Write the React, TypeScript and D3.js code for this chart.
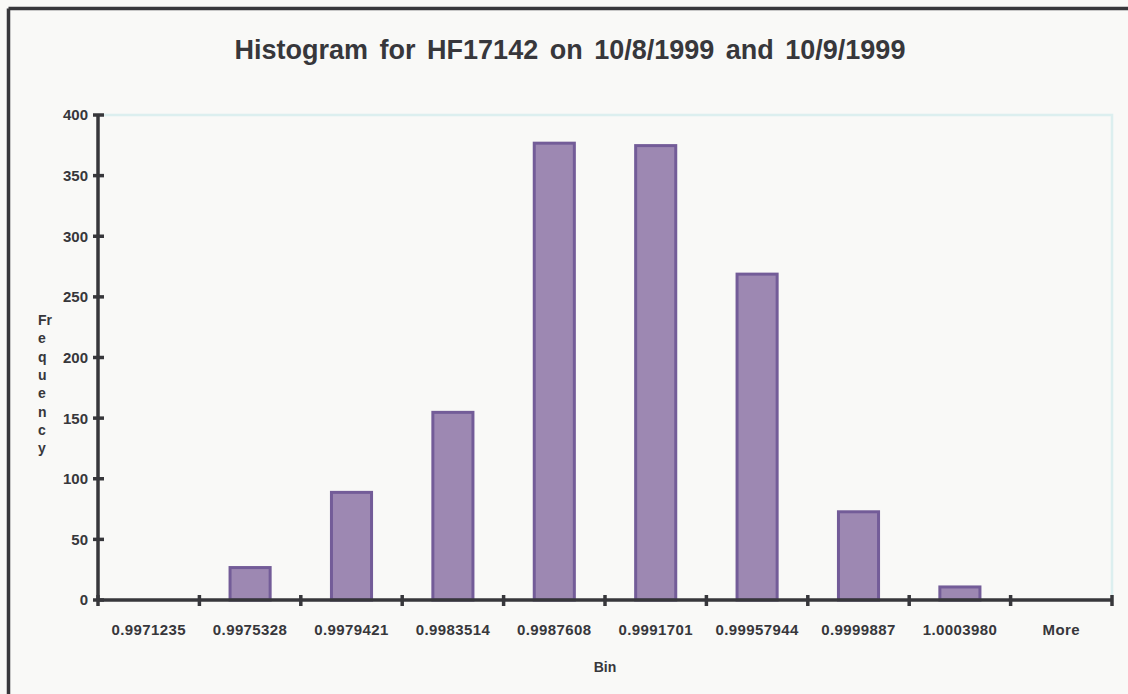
import { useMemo } from 'react';
import * as d3 from 'd3';

// Histogram bins and their counts.
const BINS = [
  '0.9971235',
  '0.9975328',
  '0.9979421',
  '0.9983514',
  '0.9987608',
  '0.9991701',
  '0.99957944',
  '0.9999887',
  '1.0003980',
  'More',
];
const FREQUENCY = [0, 28, 90, 156, 378, 376, 270, 74, 12, 0];
const Y_TICKS = [0, 50, 100, 150, 200, 250, 300, 350, 400];
const Y_LABEL_LINES = ['Fr', 'e', 'q', 'u', 'e', 'n', 'c', 'y'];

const WIDTH = 1128;
const HEIGHT = 694;
const MARGIN = { top: 115, right: 16, bottom: 94, left: 98 };

const INK = '#37373b';
const FONT = 'Liberation Sans, Arial, sans-serif';

export default function App() {
  const innerWidth = WIDTH - MARGIN.left - MARGIN.right;
  const innerHeight = HEIGHT - MARGIN.top - MARGIN.bottom;

  const x = useMemo(
    () =>
      d3
        .scaleBand<string>()
        .domain(BINS)
        .range([0, innerWidth])
        .paddingInner(0.575)
        .paddingOuter(0.2875),
    [innerWidth]
  );

  const y = useMemo(
    () => d3.scaleLinear().domain([0, 400]).range([innerHeight, 0]),
    [innerHeight]
  );

  // tick marks sit on the bin boundaries, not under the bars
  const boundaries = d3.range(BINS.length + 1).map((i) => i * x.step());

  return (
    <svg
      width={WIDTH}
      height={HEIGHT}
      style={{ position: 'absolute', left: 0, top: 0, background: '#f9f9f7' }}
      fontFamily={FONT}
    >
      {/* outer frame: only the top and left edges are in view */}
      <line x1={8.5} y1={8.5} x2={WIDTH} y2={8.5} stroke={INK} strokeWidth={3.5} />
      <line x1={8.5} y1={8.5} x2={8.5} y2={HEIGHT} stroke={INK} strokeWidth={3.5} />

      <text
        x={570}
        y={59}
        textAnchor="middle"
        fontSize={27}
        fontWeight="bold"
        fill={INK}
        wordSpacing={4}
      >
        Histogram for HF17142 on 10/8/1999 and 10/9/1999
      </text>

      <g transform={`translate(${MARGIN.left},${MARGIN.top})`}>
        {/* plot area frame (light cyan) */}
        <path
          d={`M0,0H${innerWidth}V${innerHeight}`}
          fill="none"
          stroke="#dcefef"
          strokeWidth={2.5}
        />

        {BINS.map((bin, i) =>
          FREQUENCY[i] > 0 ? (
            <rect
              key={bin}
              x={x(bin)! + 1.5}
              y={y(FREQUENCY[i]) + 1.5}
              width={x.bandwidth() - 3}
              height={innerHeight - y(FREQUENCY[i]) - 1.5}
              fill="#9d88b2"
              stroke="#735c98"
              strokeWidth={3}
            />
          ) : null
        )}

        {/* y axis */}
        <line x1={0} y1={0} x2={0} y2={innerHeight} stroke={INK} strokeWidth={3.5} />
        {Y_TICKS.map((t) => (
          <g key={t} transform={`translate(0,${y(t)})`}>
            <line x1={-5} x2={6} stroke={INK} strokeWidth={3.5} />
            <text
              x={-10}
              dy="0.36em"
              textAnchor="end"
              fontSize={15}
              fontWeight="bold"
              fill={INK}
            >
              {t}
            </text>
          </g>
        ))}

        {/* x axis */}
        <line x1={0} y1={innerHeight} x2={innerWidth} y2={innerHeight} stroke={INK} strokeWidth={3.5} />
        {boundaries.map((bx, i) => (
          <line
            key={i}
            x1={bx}
            x2={bx}
            y1={innerHeight - 5}
            y2={innerHeight + 6}
            stroke={INK}
            strokeWidth={3.5}
          />
        ))}
        {BINS.map((bin) => (
          <text
            key={bin}
            x={x(bin)! + x.bandwidth() / 2}
            y={innerHeight + 35}
            textAnchor="middle"
            fontSize={15}
            fontWeight="bold"
            fill={INK}
            letterSpacing={0.4}
          >
            {bin}
          </text>
        ))}

        <text
          x={innerWidth / 2}
          y={innerHeight + 72}
          textAnchor="middle"
          fontSize={14}
          fontWeight="bold"
          fill={INK}
        >
          Bin
        </text>
      </g>

      {/* vertical, letter-stacked axis title */}
      <text fontSize={14} fontWeight="bold" fill={INK}>
        {Y_LABEL_LINES.map((s, i) => (
          <tspan key={i} x={38} y={325 + i * 18.3}>
            {s}
          </tspan>
        ))}
      </text>
    </svg>
  );
}
